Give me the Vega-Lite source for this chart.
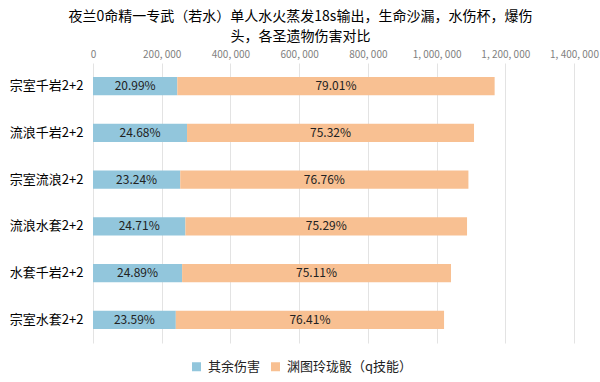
{
  "$schema": "https://vega.github.io/schema/vega-lite/v6.json",
  "autosize": "none",
  "width": 481,
  "height": 280,
  "padding": {"left": 93, "top": 63, "right": 26, "bottom": 39},
  "background": "white",
  "config": {
    "font": "Noto Sans CJK SC",
    "view": {"stroke": null}
  },
  "title": {
    "text": ["夜兰0命精一专武（若水）单人水火蒸发18s输出，生命沙漏，水伤杯，爆伤", "头，各圣遗物伤害对比"],
    "fontSize": 14,
    "fontWeight": "normal",
    "color": "#000000",
    "anchor": "middle",
    "dx": -33,
    "lineHeight": 20,
    "offset": 5
  },
  "data": {
    "values": [
      {"set": "宗室千岩2+2", "series": "其余伤害", "value": 245373, "pct": "20.99%"},
      {"set": "宗室千岩2+2", "series": "渊图玲珑骰（q技能）", "value": 923627, "pct": "79.01%"},
      {"set": "流浪千岩2+2", "series": "其余伤害", "value": 273701, "pct": "24.68%"},
      {"set": "流浪千岩2+2", "series": "渊图玲珑骰（q技能）", "value": 835299, "pct": "75.32%"},
      {"set": "宗室流浪2+2", "series": "其余伤害", "value": 253943, "pct": "23.24%"},
      {"set": "宗室流浪2+2", "series": "渊图玲珑骰（q技能）", "value": 838757, "pct": "76.76%"},
      {"set": "流浪水套2+2", "series": "其余伤害", "value": 269018, "pct": "24.71%"},
      {"set": "流浪水套2+2", "series": "渊图玲珑骰（q技能）", "value": 819682, "pct": "75.29%"},
      {"set": "水套千岩2+2", "series": "其余伤害", "value": 259354, "pct": "24.89%"},
      {"set": "水套千岩2+2", "series": "渊图玲珑骰（q技能）", "value": 782646, "pct": "75.11%"},
      {"set": "宗室水套2+2", "series": "其余伤害", "value": 241043, "pct": "23.59%"},
      {"set": "宗室水套2+2", "series": "渊图玲珑骰（q技能）", "value": 780757, "pct": "76.41%"}
    ]
  },
  "transform": [
    {"stack": "value", "groupby": ["set"], "sort": [{"field": "series", "order": "ascending"}], "as": ["v0", "v1"]}
  ],
  "encoding": {
    "y": {
      "field": "set",
      "type": "nominal",
      "sort": ["宗室千岩2+2", "流浪千岩2+2", "宗室流浪2+2", "流浪水套2+2", "水套千岩2+2", "宗室水套2+2"],
      "scale": {"paddingInner": 0.61, "paddingOuter": 0.3},
      "axis": {
        "title": null,
        "ticks": false,
        "domain": false,
        "labelFontSize": 13,
        "labelColor": "#000000",
        "labelPadding": 10
      }
    }
  },
  "layer": [
    {
      "mark": {"type": "bar"},
      "encoding": {
        "x": {
          "field": "v0",
          "type": "quantitative",
          "scale": {"domain": [0, 1400000], "nice": false},
          "axis": {
            "orient": "top",
            "title": null,
            "values": [0, 200000, 400000, 600000, 800000, 1000000, 1200000, 1400000],
            "labelExpr": "datum.value == 0 ? '0' : ((datum.value >= 1000000 ? floor(datum.value / 1000000) + ', ' + (floor((datum.value % 1000000) / 1000) == 0 ? '000' : floor((datum.value % 1000000) / 1000)) : floor(datum.value / 1000)) + ', 000')",
            "ticks": false,
            "domain": false,
            "labelFontSize": 10,
            "labelColor": "#7f7f7f",
            "labelPadding": 4,
            "gridColor": "#e3e3e3",
            "labelFlush": false
          }
        },
        "x2": {"field": "v1"},
        "color": {
          "field": "series",
          "type": "nominal",
          "scale": {"domain": ["其余伤害", "渊图玲珑骰（q技能）"], "range": ["#92C6DC", "#F8C092"]},
          "legend": {
            "title": null,
            "orient": "none",
            "direction": "horizontal",
            "legendX": 97,
            "legendY": 297,
            "symbolType": "square",
            "symbolSize": 81,
            "symbolStrokeWidth": 0,
            "labelFontSize": 13,
            "labelColor": "#222222",
            "columnPadding": 8,
            "labelOffset": 5
          }
        }
      }
    },
    {
      "transform": [
        {"fold": ["v0", "v1"], "as": ["edge", "pos"]},
        {"aggregate": [{"op": "mean", "field": "pos", "as": "mid"}], "groupby": ["set", "series", "pct"]}
      ],
      "mark": {"type": "text", "fontSize": 12, "color": "#222222"},
      "encoding": {
        "x": {
          "field": "mid",
          "type": "quantitative",
          "axis": {
            "orient": "top",
            "title": null,
            "values": [0, 200000, 400000, 600000, 800000, 1000000, 1200000, 1400000],
            "labelExpr": "datum.value == 0 ? '0' : ((datum.value >= 1000000 ? floor(datum.value / 1000000) + ', ' + (floor((datum.value % 1000000) / 1000) == 0 ? '000' : floor((datum.value % 1000000) / 1000)) : floor(datum.value / 1000)) + ', 000')",
            "ticks": false,
            "domain": false,
            "labelFontSize": 10,
            "labelColor": "#7f7f7f",
            "labelPadding": 4,
            "gridColor": "#e3e3e3",
            "labelFlush": false
          }
        },
        "text": {"field": "pct"}
      }
    }
  ]
}
